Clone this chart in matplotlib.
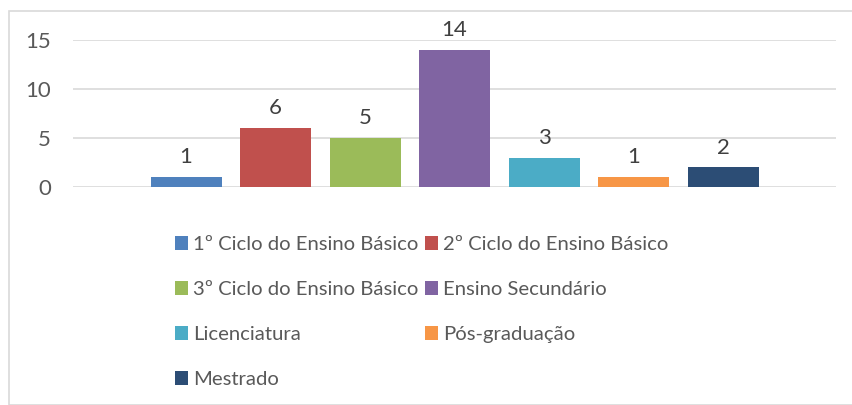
import matplotlib.pyplot as plt
from matplotlib.patches import Rectangle

categorias = ["1º Ciclo do Ensino Básico", "2º Ciclo do Ensino Básico",
              "3º Ciclo do Ensino Básico", "Ensino Secundário",
              "Licenciatura", "Pós-graduação", "Mestrado"]
valores = [1, 6, 5, 14, 3, 1, 2]
cores = ["#4f81bd", "#c0504d", "#9bbb59", "#8064a2", "#4bacc6", "#f79646", "#2c4d75"]
yticks = [0, 5, 10, 15]

plt.rcParams['font.family'] = ['Lato', 'DejaVu Sans']
W, H = 852, 405
fig = plt.figure(figsize=(W / 100, H / 100), dpi=100)

# moldura do gráfico
fig.patches.append(Rectangle((9 / W, 0), 1, 1 - 11 / H, transform=fig.transFigure,
                             fill=False, edgecolor="#d9d9d9", linewidth=1.2))

ax = fig.add_axes([73 / W, (H - 187) / H, 763 / W, 147 / H])
xs = list(range(len(valores)))
barras = []
for i in xs:
    b = ax.bar(i, valores[i], width=71 / 89.5, color=cores[i], label=categorias[i], zorder=3)
    barras.append(b)
    ax.annotate(str(valores[i]), (i, valores[i]), xytext=(0, 7), textcoords="offset points",
                ha="center", va="bottom", fontsize=16, color="#404040")

half = (763 / 2) / 89.5
ax.set_xlim(3 - half, 3 + half)
ax.set_ylim(0, 15)
ax.set_yticks(yticks)
ax.set_xticks([])
ax.yaxis.grid(True, color="#d9d9d9", linewidth=1.2, zorder=0)
ax.tick_params(axis="y", length=0, labelsize=16, labelcolor="#595959", pad=16)
for s in ax.spines.values():
    s.set_visible(False)

ordem = [0, 2, 4, 6, 1, 3, 5]
fig.legend([barras[i] for i in ordem], [categorias[i] for i in ordem],
           loc="upper left", bbox_to_anchor=(165 / W, 1 - 226 / H), ncol=2,
           frameon=False, fontsize=14.6, labelcolor="#595959",
           handlelength=0.65, handleheight=0.65, handletextpad=0.25,
           columnspacing=0.3, labelspacing=1.38, borderpad=0)

fig.savefig("out.png", dpi=100)
